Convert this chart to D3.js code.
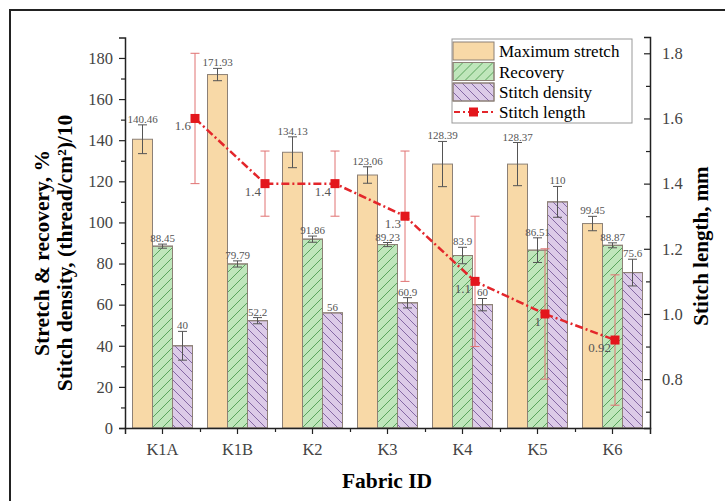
<!DOCTYPE html>
<html>
<head>
<meta charset="utf-8">
<script src="https://cdn.jsdelivr.net/npm/d3@7"></script>
<style>
  body { margin: 0; background: #fff; }
  svg text { font-family: "Liberation Serif", "DejaVu Serif", "Noto Serif", serif !important; }
</style>
</head>
<body>
<svg class="chart"></svg>
<script>
let width = 725
let height = 501

// data
let fabrics = ['K1A', 'K1B', 'K2', 'K3', 'K4', 'K5', 'K6']
let maxStretch = [140.46, 171.93, 134.13, 123.06, 128.39, 128.37, 99.45]
let maxStretchErr = [7, 3, 7.5, 4, 11, 10.5, 3.5]
let recovery = [88.45, 79.79, 91.86, 89.23, 83.9, 86.51, 88.87]
let recoveryErr = [1, 1.5, 1.5, 1, 4, 6, 1.2]
let stitchDensity = [40, 52.2, 56, 60.9, 60, 110, 75.6]
let stitchDensityErr = [7, 1.5, 0, 2.5, 3, 7.5, 6.5]
let stitchLength = [1.6, 1.4, 1.4, 1.3, 1.1, 1, 0.92]
let stitchLengthErr = [0.2, 0.1, 0.1, 0.2, 0.2, 0.2, 0.2]
let leftTicks = [0, 20, 40, 60, 80, 100, 120, 140, 160, 180]
let rightTicks = [0.8, 1.0, 1.2, 1.4, 1.6, 1.8]

let serif = '"Liberation Serif", "DejaVu Serif", serif'

let series = [
  { key: 'Maximum stretch', values: maxStretch, err: maxStretchErr, fill: '#f8d9a7', hatch: null },
  { key: 'Recovery', values: recovery, err: recoveryErr, fill: '#bfe6bb', hatch: 'url(#hatchGreen)' },
  { key: 'Stitch density', values: stitchDensity, err: stitchDensityErr, fill: '#dccbe8', hatch: 'url(#hatchPurple)' }
]

let svg = d3.select('.chart')
  .attr('width', width)
  .attr('height', height)
  .attr('font-family', serif)

// hatch patterns
let defs = svg.append('defs')
let gp = defs.append('pattern')
  .attr('id', 'hatchGreen')
  .attr('patternUnits', 'userSpaceOnUse')
  .attr('width', 10).attr('height', 10)
gp.append('path').attr('d', 'M-2,2 L2,-2 M0,10 L10,0 M8,12 L12,8')
  .attr('stroke', '#4f9d52').attr('stroke-width', 0.9)
let pp = defs.append('pattern')
  .attr('id', 'hatchPurple')
  .attr('patternUnits', 'userSpaceOnUse')
  .attr('width', 9).attr('height', 9)
pp.append('path').attr('d', 'M-2,7 L2,11 M0,0 L9,9 M7,-2 L11,2')
  .attr('stroke', '#7a5c9c').attr('stroke-width', 0.9)

// frame
svg.append('path')
  .attr('d', `M10,${height} L10,10 L${width},10`)
  .attr('fill', 'none')
  .attr('stroke', '#222')
  .attr('stroke-width', 2)

let x = d3.scaleBand().domain(fabrics).range([125, 650])
let xs = d3.scaleBand().domain(series.map(s => s.key)).range([7.5, 67.5])
let xl = d3.scalePoint().domain(fabrics).range([195, 615])
let y = d3.scaleLinear().domain([0, 190]).range([428, 37.4])
let yr = d3.scaleLinear().domain([0.65, 1.85]).range([428, 37])

// bars
let labelRows = []
series.forEach(s => {
  let g = svg.append('g')
  let rows = fabrics.map((f, i) => ({ f: f, k: s.key, v: s.values[i], e: s.err[i] }))
  labelRows = labelRows.concat(rows)
  g.selectAll('rect.base')
    .data(rows)
    .enter()
    .append('rect')
    .attr('x', d => x(d.f) + xs(s.key))
    .attr('y', d => y(d.v))
    .attr('width', xs.bandwidth())
    .attr('height', d => y(0) - y(d.v))
    .attr('fill', s.fill)
    .attr('stroke', '#8c8076')
    .attr('stroke-width', 1)
  if (s.hatch) {
    g.selectAll('rect.hatch')
      .data(rows)
      .enter()
      .append('rect')
      .attr('x', d => x(d.f) + xs(s.key))
      .attr('y', d => y(d.v))
      .attr('width', xs.bandwidth())
      .attr('height', d => y(0) - y(d.v))
      .attr('fill', s.hatch)
      .attr('stroke', '#8c8076')
      .attr('stroke-width', 1)
  }
  let cx = d => x(d.f) + xs(s.key) + xs.bandwidth() / 2
  let eb = g.selectAll('g.err')
    .data(rows.filter(d => d.e > 0))
    .enter()
    .append('g')
    .attr('stroke', '#555')
    .attr('stroke-width', 1)
  eb.append('line')
    .attr('x1', cx).attr('x2', cx)
    .attr('y1', d => y(d.v + d.e)).attr('y2', d => y(d.v - d.e))
  eb.append('line')
    .attr('x1', d => cx(d) - 4.5).attr('x2', d => cx(d) + 4.5)
    .attr('y1', d => y(d.v + d.e)).attr('y2', d => y(d.v + d.e))
  eb.append('line')
    .attr('x1', d => cx(d) - 4.5).attr('x2', d => cx(d) + 4.5)
    .attr('y1', d => y(d.v - d.e)).attr('y2', d => y(d.v - d.e))
})

// value labels on top of all bars
svg.append('g').selectAll('text')
  .data(labelRows)
  .enter()
  .append('text')
  .attr('x', d => x(d.f) + xs(d.k) + xs.bandwidth() / 2)
  .attr('y', d => y(d.v + d.e) - 2)
  .attr('text-anchor', 'middle')
  .attr('font-size', 11)
  .attr('fill', '#555')
  .text(d => d.v)

// stitch length line
let lineRows = fabrics.map((f, i) => ({ f: f, v: stitchLength[i], e: stitchLengthErr[i] }))
let lg = svg.append('g')
let le = lg.selectAll('g.err')
  .data(lineRows)
  .enter()
  .append('g')
  .attr('stroke', '#e07272')
  .attr('stroke-width', 1)
le.append('line')
  .attr('x1', d => xl(d.f)).attr('x2', d => xl(d.f))
  .attr('y1', d => yr(d.v + d.e)).attr('y2', d => yr(d.v - d.e))
le.append('line')
  .attr('x1', d => xl(d.f) - 4.5).attr('x2', d => xl(d.f) + 4.5)
  .attr('y1', d => yr(d.v + d.e)).attr('y2', d => yr(d.v + d.e))
le.append('line')
  .attr('x1', d => xl(d.f) - 4.5).attr('x2', d => xl(d.f) + 4.5)
  .attr('y1', d => yr(d.v - d.e)).attr('y2', d => yr(d.v - d.e))

let line = d3.line().x(d => xl(d.f)).y(d => yr(d.v))
lg.append('path')
  .datum(lineRows)
  .attr('d', line)
  .attr('fill', 'none')
  .attr('stroke', '#e3262b')
  .attr('stroke-width', 2.5)
  .attr('stroke-dasharray', '8,3,2,3')
lg.selectAll('rect')
  .data(lineRows)
  .enter()
  .append('rect')
  .attr('x', d => xl(d.f) - 4.5)
  .attr('y', d => yr(d.v) - 4.5)
  .attr('width', 9).attr('height', 9)
  .attr('fill', '#e3161c')
lg.selectAll('text')
  .data(lineRows)
  .enter()
  .append('text')
  .attr('x', d => xl(d.f) - 4)
  .attr('y', d => yr(d.v) + 12)
  .attr('text-anchor', 'end')
  .attr('font-size', 13)
  .attr('fill', '#555')
  .text(d => d.v)

// axes
svg.append('g').attr('transform', 'translate(125,0)')
  .call(d3.axisLeft(y).tickValues(leftTicks).tickSize(6).tickPadding(6))
svg.append('g').attr('transform', 'translate(125,0)')
  .call(d3.axisLeft(y).tickValues(d3.range(10, 190, 20)).tickSize(4).tickFormat(''))
  .select('.domain').remove()

svg.append('g').attr('transform', 'translate(650,0)')
  .call(d3.axisRight(yr).tickValues(rightTicks).tickSize(-6).tickPadding(12)
    .tickFormat(d3.format('.1f')))
svg.append('g').attr('transform', 'translate(650,0)')
  .call(d3.axisRight(yr).tickValues([0.7, 0.9, 1.1, 1.3, 1.5, 1.7]).tickSize(-4).tickFormat(''))
  .select('.domain').remove()

svg.append('g').attr('transform', 'translate(0,428)')
  .call(d3.axisBottom(x).tickSize(6).tickPadding(9))
svg.append('g').attr('transform', 'translate(0,428)')
  .call(d3.axisBottom(d3.scaleLinear().domain([0, 7]).range([125, 650]))
    .tickValues([1, 2, 3, 4, 5, 6]).tickSize(4).tickFormat(''))
  .select('.domain').remove()

svg.selectAll('.domain').attr('stroke', '#222').attr('stroke-width', 1.5)
svg.selectAll('.tick line').attr('stroke', '#222').attr('stroke-width', 1.2)
svg.selectAll('g').attr('font-family', serif)
svg.selectAll('.tick text')
  .attr('font-size', 16.5)
  .attr('fill', '#444')

// axis titles
svg.append('text')
  .attr('transform', 'translate(49,253) rotate(-90)')
  .attr('text-anchor', 'middle')
  .attr('font-size', 21.5).attr('font-weight', 'bold')
  .text('Stretch & recovery, %')
svg.append('text')
  .attr('transform', 'translate(72,253) rotate(-90)')
  .attr('text-anchor', 'middle')
  .attr('font-size', 21.5).attr('font-weight', 'bold')
  .text('Stitch density, (thread/cm²)/10')
svg.append('text')
  .attr('transform', 'translate(708,246) rotate(-90)')
  .attr('text-anchor', 'middle')
  .attr('font-size', 21).attr('font-weight', 'bold')
  .text('Stitch length, mm')
svg.append('text')
  .attr('x', 387).attr('y', 488)
  .attr('text-anchor', 'middle')
  .attr('font-size', 21.5).attr('font-weight', 'bold')
  .text('Fabric ID')

// legend
let legend = svg.append('g')
legend.append('rect')
  .attr('x', 452).attr('y', 39).attr('width', 180).attr('height', 84)
  .attr('fill', '#fff').attr('stroke', '#999').attr('stroke-width', 1)
let leg = legend.selectAll('g.item')
  .data(series)
  .enter()
  .append('g')
  .attr('transform', (d, i) => `translate(453,${42 + i * 20.5})`)
leg.append('rect')
  .attr('width', 41).attr('height', 18)
  .attr('fill', d => d.fill).attr('stroke', '#8c8076')
leg.filter(d => d.hatch).append('rect')
  .attr('width', 41).attr('height', 18)
  .attr('fill', d => d.hatch).attr('stroke', '#8c8076')
leg.append('text')
  .attr('x', 46).attr('y', 15)
  .attr('font-size', 17)
  .text(d => d.key)
let ll = legend.append('g').attr('transform', 'translate(453,112)')
ll.append('line')
  .attr('x1', 1).attr('x2', 41)
  .attr('stroke', '#e3262b').attr('stroke-width', 2)
  .attr('stroke-dasharray', '6,3,2,3')
ll.append('rect')
  .attr('x', 16).attr('y', -4.5).attr('width', 9).attr('height', 9)
  .attr('fill', '#e3161c')
ll.append('text')
  .attr('x', 46).attr('y', 6)
  .attr('font-size', 17)
  .text('Stitch length')
</script>
</body>
</html>
